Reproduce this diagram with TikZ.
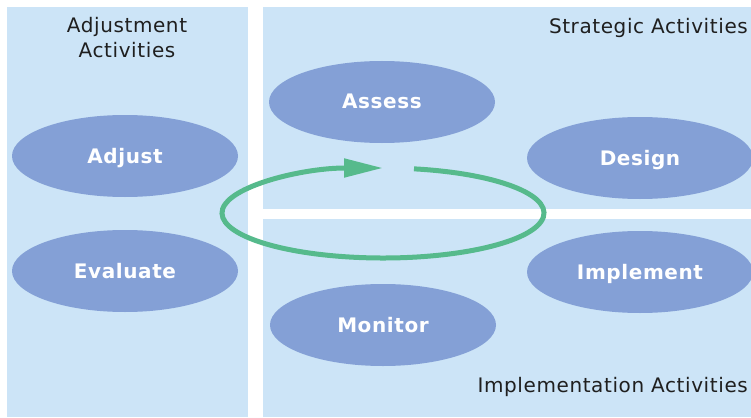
\documentclass[tikz,border=0pt]{standalone}
\usepackage{fontspec}
\setmainfont{DejaVu Sans}
\newfontfamily\labfont[LetterSpace=3]{DejaVu Sans}
\newfontfamily\blobfont[LetterSpace=3]{DejaVu Sans Bold}
\usetikzlibrary{shapes.geometric,arrows.meta}
\definecolor{panelblue}{RGB}{204,228,247}
\definecolor{blobblue}{RGB}{132,160,214}
\definecolor{cyclegreen}{RGB}{86,186,140}
\tikzset{
  panel/.style={fill=panelblue,draw=none},
  blob/.style={ellipse,fill=blobblue,draw=none,minimum width=226pt,minimum height=82pt,inner sep=0pt,
    text=white,font=\blobfont\fontsize{20pt}{20pt}\selectfont,text height=14pt,text depth=0pt},
  title/.style={inner sep=0pt,font=\labfont\fontsize{20pt}{25pt}\selectfont,text=black!88},
  cycle/.style={draw=cyclegreen,line width=5pt,-{Triangle[length=39pt,width=18pt]}}
}
\begin{document}
\begin{tikzpicture}[x=1pt,y=-1pt]
\useasboundingbox (0,0) rectangle (751,417);
\fill[white] (0,0) rectangle (751,417);
\fill[panel] (7,7) rectangle (248,417);
\fill[panel] (263,7) rectangle (751,209);
\fill[panel] (263,219) rectangle (751,417);
\node[title,anchor=base] (adjtitle) at (127,33) {Adjustment};
\node[title,anchor=base] (adjtitle2) at (127,58) {Activities};
\node[title,anchor=base east] (strtitle) at (748,34) {Strategic Activities};
\node[title,anchor=base east] (imptitle) at (748,392) {Implementation Activities};
\node[blob] (assess) at (382,102) {Assess};
\node[blob] (design) at (640,158) {Design};
\node[blob] (adjust) at (125,156) {Adjust};
\node[blob] (evaluate) at (125,271) {Evaluate};
\node[blob] (implement) at (640,272) {Implement};
\node[blob] (monitor) at (383,325) {Monitor};
\coordinate (cyc) at (383,213);
\draw[cycle] (cyc) ++(78.9:161pt and 45pt) arc[start angle=78.9,end angle=-270,x radius=161pt,y radius=45pt];
\end{tikzpicture}
\end{document}
